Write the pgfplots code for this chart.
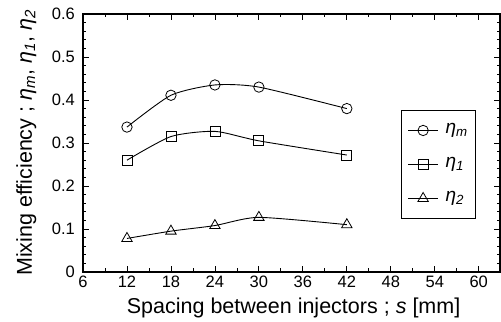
\documentclass[border=0pt]{standalone}
\usepackage{pgfplots}
\pgfplotsset{compat=1.18}
\usepackage{fontspec}
\setmainfont{Liberation Sans}
\newcommand{\et}[1]{\textit{η}\textsubscript{\textit{#1}}}
\begin{document}
\begin{tikzpicture}
\begin{axis}[
  name=ax,
  scale only axis,
  width=417pt, height=258pt,
  xmin=6, xmax=62.9, ymin=0, ymax=0.6,
  xtick={6,12,18,24,30,36,42,48,54,60},
  ytick={0,0.1,0.2,0.3,0.4,0.5,0.6},
  yticklabels={0,0.1,0.2,0.3,0.4,0.5,0.6},
  minor x tick num=1,
  minor y tick num=4,
  tick align=inside,
  major tick length=6pt, minor tick length=3.5pt,
  tick style={black, line width=0.8pt},
  axis line style={line width=1.3pt},
  ticklabel style={font=\fontsize{16.5}{18}\selectfont},
  xticklabel style={inner sep=3.5pt},
  yticklabel style={inner sep=4pt, xshift=-4pt},
  /pgf/number format/assume math mode=true,
  xlabel={Spacing between injectors ; \textit{s} [mm]},
  ylabel={Mixing efficiency ; \et{m}, \et{1}, \et{2}},
  label style={font=\fontsize{21.5}{24}\selectfont},
  xlabel style={at={(axis description cs:0.505,-0.159)}, anchor=base},
  ylabel style={at={(axis description cs:-0.1223,0.5)}, anchor=base},
  legend style={at={(0.763,0.628)}, anchor=north west, draw=black, line width=1pt,
    font=\fontsize{19}{20}\selectfont, row sep=14pt, inner xsep=6pt, inner ysep=10pt,
    nodes={inner ysep=1pt, inner xsep=2pt, text height=12pt, text depth=6pt}},
  legend image code/.code={
    \draw[#1, mark repeat=2, mark phase=2] plot coordinates {(0pt,0pt) (15pt,0pt) (30pt,0pt)};},
  legend cell align=left,
]
\addplot[black, line width=0.9pt, smooth, tension=0.4, mark=o, mark size=5.2pt, mark options={fill=white, line width=0.8pt}]
  coordinates {(12,0.337) (18,0.411) (24,0.435) (30,0.430) (42,0.380)};
\addlegendentry{\hspace{5pt}\et{m}}
\addplot[black, line width=0.9pt, smooth, tension=0.4, mark=square, mark size=5pt, mark options={fill=white, line width=0.8pt}]
  coordinates {(12,0.260) (18,0.315) (24,0.327) (30,0.305) (42,0.272)};
\addlegendentry{\hspace{5pt}\et{1}}
\addplot[black, line width=0.9pt, smooth, tension=0.4, mark=triangle, mark size=6pt, mark options={fill=white, line width=0.8pt}]
  coordinates {(12,0.078) (18,0.095) (24,0.108) (30,0.127) (42,0.110)};
\addlegendentry{\hspace{5pt}\et{2}}
\end{axis}
\path ([shift={(-83pt,-50pt)}]ax.south west) rectangle ([shift={(1pt,14pt)}]ax.north east);
\end{tikzpicture}
\end{document}
